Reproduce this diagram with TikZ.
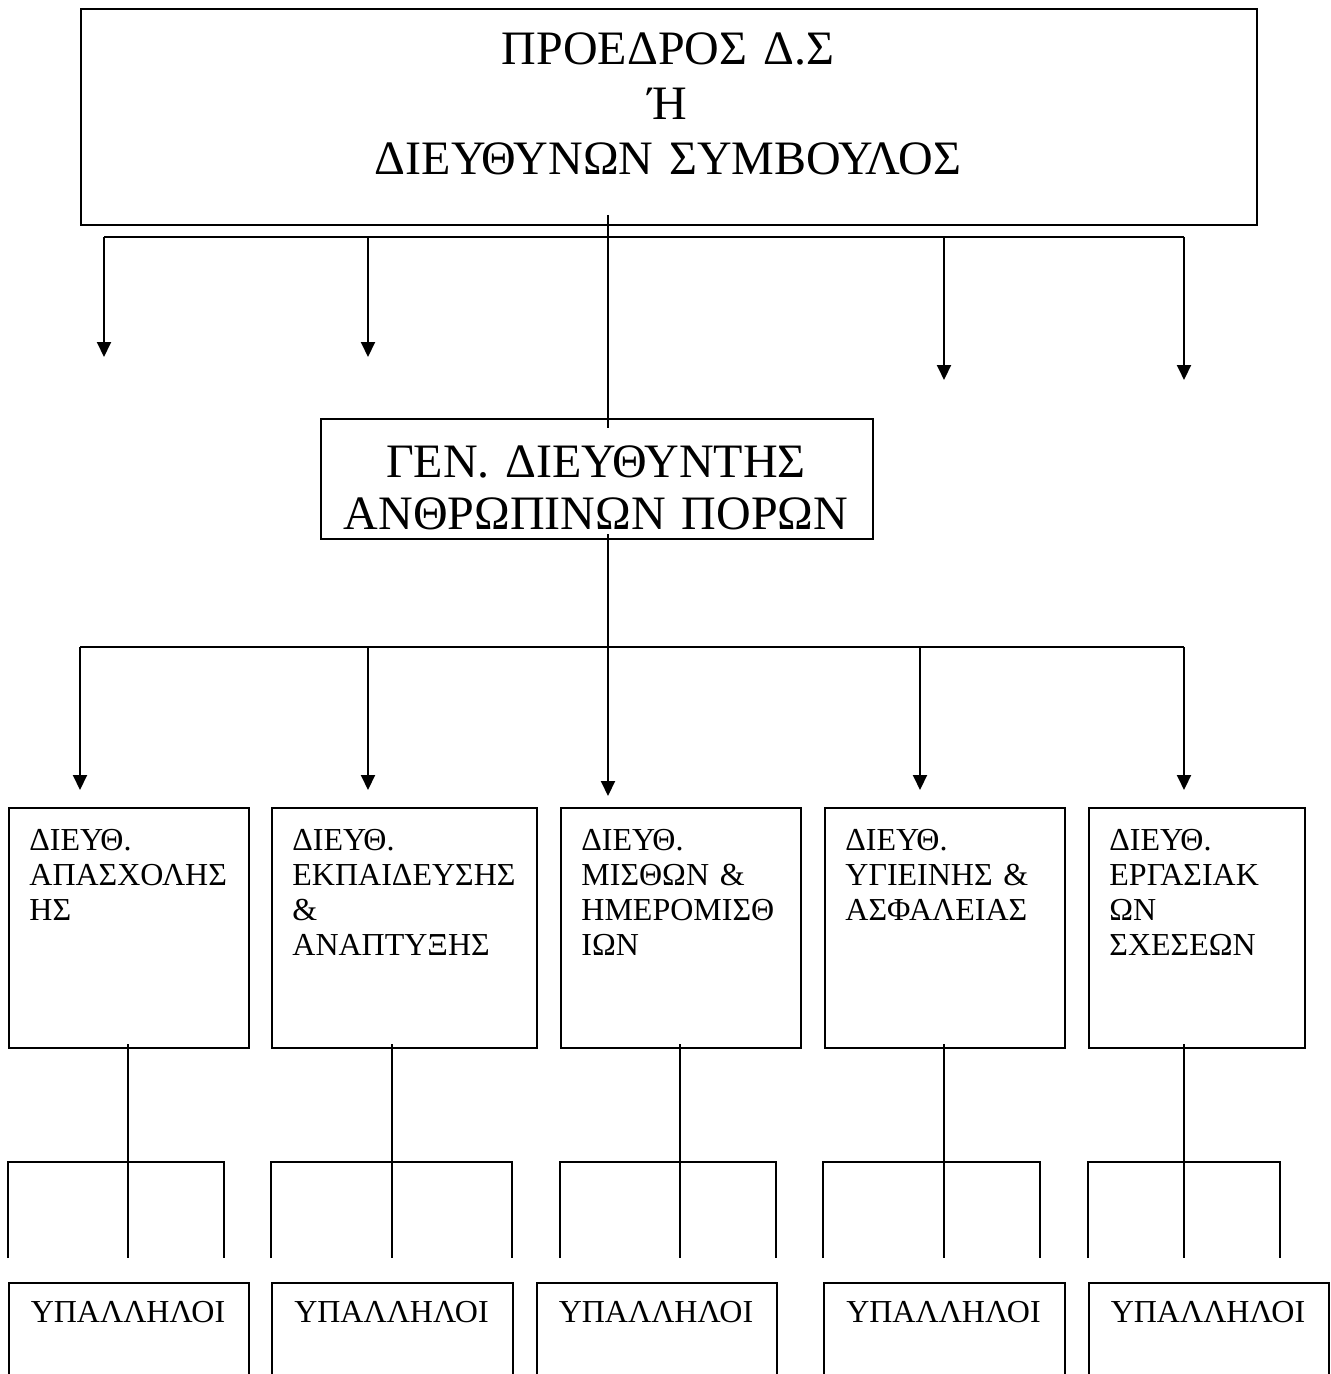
\documentclass[tikz,border=0pt]{standalone}
\usepackage{fontspec}
\setmainfont{Liberation Serif}
\usetikzlibrary{arrows.meta}
\begin{document}
\begin{tikzpicture}[x=0.5pt,y=-0.5pt,
  box/.style={draw, line width=1pt, inner sep=0pt, anchor=north west},
  conn/.style={line width=1pt},
  arr/.style={conn, -{Triangle[width=7pt,length=7.5pt]}},
  bigtext/.style={font=\fontsize{24}{27.5}\selectfont, inner sep=0pt, anchor=base, align=center, text width=400pt},
  midtext/.style={font=\fontsize{16}{17.5}\selectfont, inner sep=0pt, anchor=base west, align=left, text width=115pt},
  lowtext/.style={font=\fontsize{16}{17.5}\selectfont, inner sep=0pt, anchor=base},
]
\useasboundingbox (0,0) rectangle (1330,1374);
\clip (0,0) rectangle (1330,1374);

% top box
\node[box, minimum width=588pt, minimum height=108pt] (top) at (80,8) {};
\node[bigtext] (topT) at (668,65) {ΠΡΟΕΔΡΟΣ Δ.Σ\\Ή\\ΔΙΕΥΘΥΝΩΝ ΣΥΜΒΟΥΛΟΣ};

% general director box
\node[box, minimum width=276pt, minimum height=60pt] (gen) at (320,418) {};
\node[bigtext, font=\fontsize{24}{26}\selectfont] (genT) at (596,477) {ΓΕΝ. ΔΙΕΥΘΥΝΤΗΣ\\ΑΝΘΡΩΠΙΝΩΝ ΠΟΡΩΝ};

% arrows from top bus
\coordinate (tb1) at (104,237);
\coordinate (tb2) at (368,237);
\coordinate (tb3) at (944,237);
\coordinate (tb4) at (1184,237);
\coordinate (te1) at (104,357);
\coordinate (te2) at (368,357);
\coordinate (te3) at (944,380);
\coordinate (te4) at (1184,380);
\draw[conn] (tb1) -- (tb4);
\draw[arr] (tb1) -- (te1);
\draw[arr] (tb2) -- (te2);
\draw[arr] (tb3) -- (te3);
\draw[arr] (tb4) -- (te4);

% spine from top to gen
\coordinate (spine) at (608,237);
\draw[conn] ([yshift=5.5pt]top.south -| spine) -- ([yshift=-5pt]gen.north -| spine);

% middle bus
\coordinate (mb1) at (80,647);
\coordinate (mb2) at (368,647);
\coordinate (mb3) at (608,647);
\coordinate (mb4) at (920,647);
\coordinate (mb5) at (1184,647);
\coordinate (me1) at (80,790);
\coordinate (me2) at (368,790);
\coordinate (me3) at (608,796);
\coordinate (me4) at (920,790);
\coordinate (me5) at (1184,790);
\draw[conn] ([yshift=3pt]gen.south -| mb3) -- (mb3);
\draw[conn] (mb1) -- (mb5);
\draw[arr] (mb1) -- (me1);
\draw[arr] (mb2) -- (me2);
\draw[arr] (mb3) -- (me3);
\draw[arr] (mb4) -- (me4);
\draw[arr] (mb5) -- (me5);

% middle boxes
\node[box, minimum width=120pt, minimum height=120pt] (m1) at (8,807) {};
\node[box, minimum width=132.5pt, minimum height=120pt] (m2) at (271,807) {};
\node[box, minimum width=120pt, minimum height=120pt] (m3) at (560,807) {};
\node[box, minimum width=120pt, minimum height=120pt] (m4) at (824,807) {};
\node[box, minimum width=108pt, minimum height=120pt] (m5) at (1088,807) {};
\node[midtext] (m1t) at (29,850) {ΔΙΕΥΘ.\\ΑΠΑΣΧΟΛΗΣ\\ΗΣ};
\node[midtext] (m2t) at (292,850) {ΔΙΕΥΘ.\\ΕΚΠΑΙΔΕΥΣΗΣ\\\&\\ΑΝΑΠΤΥΞΗΣ};
\node[midtext] (m3t) at (581,850) {ΔΙΕΥΘ.\\ΜΙΣΘΩΝ \&\\ΗΜΕΡΟΜΙΣΘ\\ΙΩΝ};
\node[midtext] (m4t) at (845,850) {ΔΙΕΥΘ.\\ΥΓΙΕΙΝΗΣ \&\\ΑΣΦΑΛΕΙΑΣ};
\node[midtext] (m5t) at (1109,850) {ΔΙΕΥΘ.\\ΕΡΓΑΣΙΑΚ\\ΩΝ\\ΣΧΕΣΕΩΝ};

% brackets
\coordinate (endrow) at (0,1258);
\coordinate (k1) at (128,1162);
\coordinate (k2) at (392,1162);
\coordinate (k3) at (680,1162);
\coordinate (k4) at (944,1162);
\coordinate (k5) at (1184,1162);
\coordinate (kl1) at (8,1162);
\coordinate (kr1) at (224,1162);
\coordinate (kl2) at (271,1162);
\coordinate (kr2) at (512,1162);
\coordinate (kl3) at (560,1162);
\coordinate (kr3) at (776,1162);
\coordinate (kl4) at (823,1162);
\coordinate (kr4) at (1040,1162);
\coordinate (kl5) at (1088,1162);
\coordinate (kr5) at (1280,1162);
\draw[conn] ([yshift=2.5pt]m1.south -| k1) -- (k1 |- endrow);
\draw[conn] ([yshift=2.5pt]m2.south -| k2) -- (k2 |- endrow);
\draw[conn] ([yshift=2.5pt]m3.south -| k3) -- (k3 |- endrow);
\draw[conn] ([yshift=2.5pt]m4.south -| k4) -- (k4 |- endrow);
\draw[conn] ([yshift=2.5pt]m5.south -| k5) -- (k5 |- endrow);
\draw[conn] (kl1 |- endrow) -- (kl1) -- (kr1) -- (kr1 |- endrow);
\draw[conn] (kl2 |- endrow) -- (kl2) -- (kr2) -- (kr2 |- endrow);
\draw[conn] (kl3 |- endrow) -- (kl3) -- (kr3) -- (kr3 |- endrow);
\draw[conn] (kl4 |- endrow) -- (kl4) -- (kr4) -- (kr4 |- endrow);
\draw[conn] (kl5 |- endrow) -- (kl5) -- (kr5) -- (kr5 |- endrow);

% bottom boxes
\node[box, minimum width=120pt, minimum height=60pt] (b1) at (8,1282) {};
\node[box, minimum width=120.5pt, minimum height=60pt] (b2) at (271,1282) {};
\node[box, minimum width=120pt, minimum height=60pt] (b3) at (536,1282) {};
\node[box, minimum width=120.5pt, minimum height=60pt] (b4) at (823,1282) {};
\node[box, minimum width=120pt, minimum height=60pt] (b5) at (1088,1282) {};
\node[lowtext] (b1t) at (128,1322) {ΥΠΑΛΛΗΛΟΙ};
\node[lowtext] (b2t) at (391.5,1322) {ΥΠΑΛΛΗΛΟΙ};
\node[lowtext] (b3t) at (656,1322) {ΥΠΑΛΛΗΛΟΙ};
\node[lowtext] (b4t) at (943.5,1322) {ΥΠΑΛΛΗΛΟΙ};
\node[lowtext] (b5t) at (1208,1322) {ΥΠΑΛΛΗΛΟΙ};
\end{tikzpicture}
\end{document}
